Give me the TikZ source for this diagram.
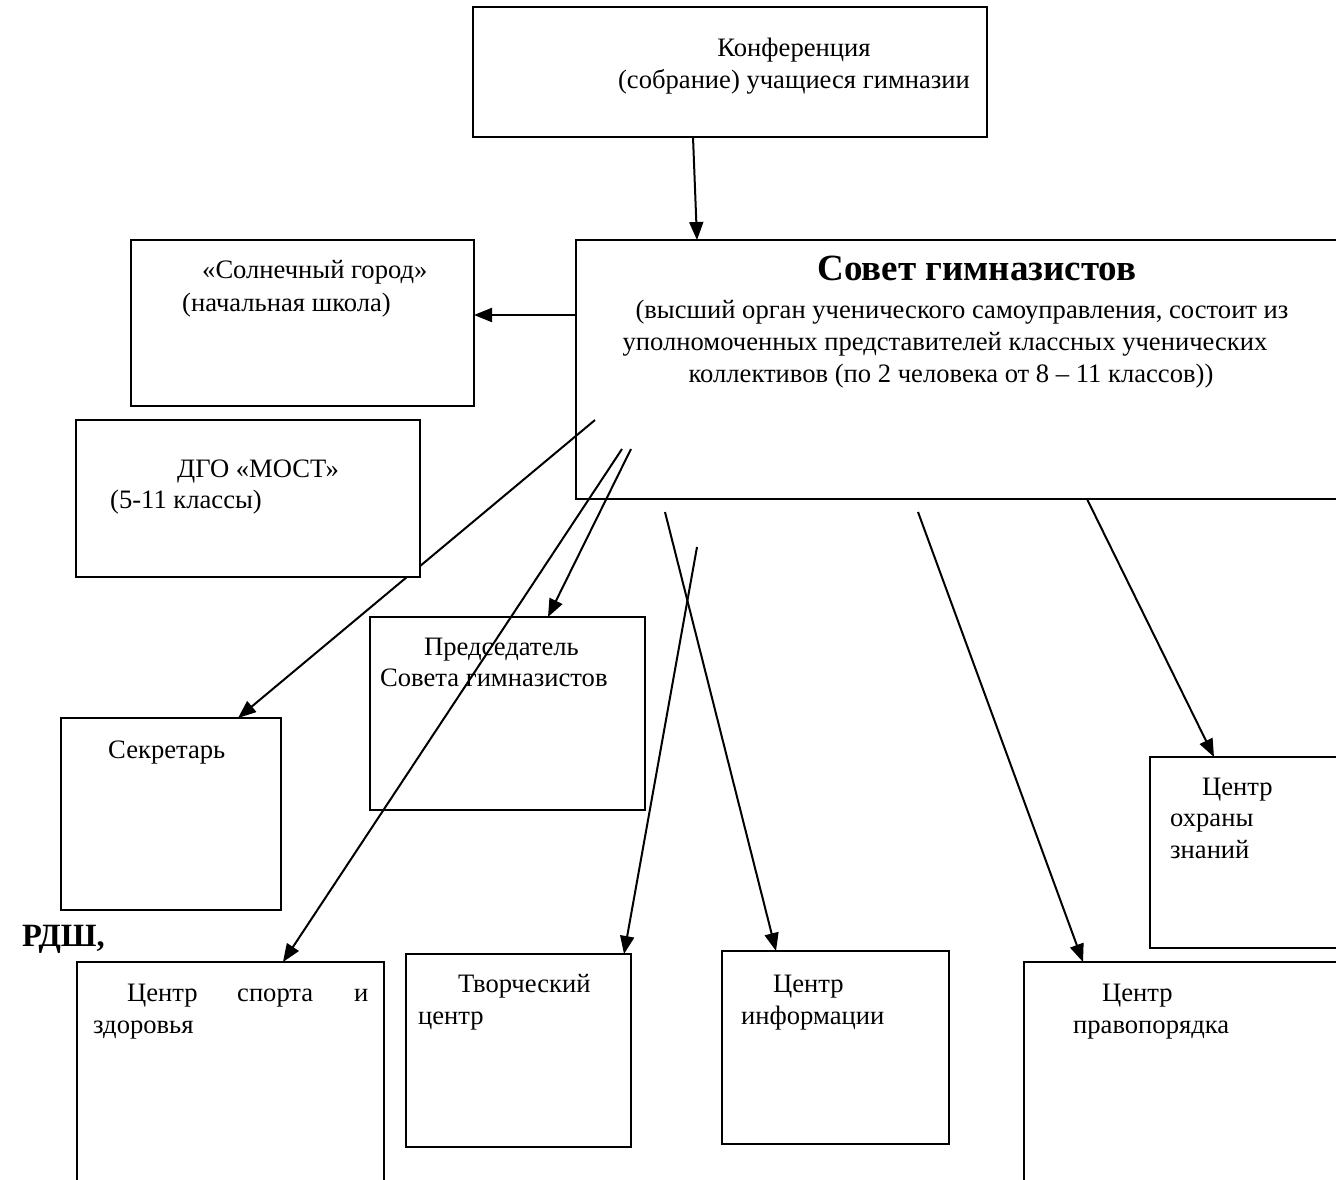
\documentclass[tikz,border=0pt]{standalone}
\usepackage{fontspec}
\setmainfont{Liberation Serif}
\usetikzlibrary{arrows.meta}
\begin{document}
\begin{tikzpicture}[x=1pt,y=-1pt,
  box/.style={draw, line width=2pt, fill=white, inner sep=0pt, outer sep=0pt, anchor=north west},
  txt/.style={inner sep=0pt, anchor=base west, font=\fontsize{26.6}{32}\selectfont},
  ctxt/.style={inner sep=0pt, anchor=base, font=\fontsize{26.6}{32}\selectfont},
  ttl/.style={inner sep=0pt, anchor=base, font=\fontsize{37}{40}\selectfont\bfseries},
  arr/.style={line width=2pt, -{Triangle[length=18pt,width=14pt]}}]
\useasboundingbox (0,0) rectangle (1336,1179);
\clip (0,0) rectangle (1336,1179);
\fill[white] (0,0) rectangle (1336,1179);

% boxes
\node[box, minimum width=514pt, minimum height=130pt] (conf) at (473,7) {};
\node[box, minimum width=830pt, minimum height=259pt] (sovet) at (576,240) {};
\node[box, minimum width=343pt, minimum height=166pt] (sun) at (131,240) {};
\node[box, minimum width=275pt, minimum height=193pt] (pred) at (370,617) {};
\node[box, minimum width=220pt, minimum height=192pt] (sekr) at (61,718) {};
\node[box, minimum width=250pt, minimum height=191pt] (ohr) at (1150,757) {};
\node[box, minimum width=307pt, minimum height=280pt] (sport) at (77,962) {};
\node[box, minimum width=225pt, minimum height=193pt] (tvor) at (406,954) {};
\node[box, minimum width=227pt, minimum height=193pt] (info) at (722,951) {};
\node[box, minimum width=380pt, minimum height=280pt] (prav) at (1024,962) {};

% texts
\node[ctxt] (conf1) at (794,56) {Конференция};
\node[ctxt] (conf2) at (794,88) {(собрание) учащиеся гимназии};
\node[ttl] (sov0) at (977,280) {Совет гимназистов};
\node[ctxt] (sov1) at (962,318) {(высший орган ученического самоуправления, состоит из};
\node[ctxt] (sov2) at (945,350) {уполномоченных представителей классных ученических};
\node[ctxt] (sov3) at (951,382) {коллективов (по 2 человека от 8 – 11 классов))};
\node[txt] (sun1) at (202,278) {«Солнечный город»};
\node[txt] (sun2) at (182,311) {(начальная школа)};
\node[txt] (pred1) at (424,655) {Председатель};
\node[txt] (pred2) at (380,686) {Совета гимназистов};
\node[txt] (sekr1) at (108,758) {Секретарь};
\node[txt] (ohr1) at (1202,795) {Центр};
\node[txt] (ohr2) at (1170,826) {охраны};
\node[txt] (ohr3) at (1170,858) {знаний};
\node[txt] (sp1) at (127,1001) {Центр};
\node[txt] (sp2) at (237,1001) {спорта};
\node[txt] (sp3) at (354,1001) {и};
\node[txt] (sp4) at (93,1033) {здоровья};
\node[txt] (tv1) at (458,992) {Творческий};
\node[txt] (tv2) at (418,1024) {центр};
\node[txt] (in1) at (773,992) {Центр};
\node[txt] (in2) at (741,1024) {информации};
\node[txt] (pr1) at (1102,1001) {Центр};
\node[txt] (pr2) at (1073,1033) {правопорядка};
\node[txt, font=\fontsize{32.5}{36}\selectfont\bfseries] (rdsh) at (22,946) {РДШ,};

% connector start points
\coordinate (s3) at (595,420);
\coordinate (s4) at (631,449);
\coordinate (s5) at (622,449);
\coordinate (s6) at (697,547);
\coordinate (s7) at (665,512);
\coordinate (s8) at (918,512);

% connectors
\draw[arr] (693,0 |- conf.south) -- (697,0 |- sovet.north);
\draw[arr] (sovet.west |- 0,315) -- (sun.east |- 0,315);
\draw[arr] (s3) -- (238,0 |- sekr.north);
\draw[arr] (s4) -- (548,0 |- pred.north);
\draw[arr] (s5) -- (283,0 |- sport.north);
\draw[arr] (s6) -- (624,0 |- tvor.north);
\draw[arr] (s7) -- (776,0 |- info.north);
\draw[arr] (s8) -- (1083,0 |- prav.north);
\draw[arr] (1087,0 |- sovet.south) -- (1214,0 |- ohr.north);

% DGO box drawn on top of the crossing line
\node[box, minimum width=344pt, minimum height=157pt] (dgo) at (76,420) {};
\node[txt] (dgo1) at (177,477) {ДГО «МОСТ»};
\node[txt] (dgo2) at (110,508) {(5-11 классы)};
\end{tikzpicture}
\end{document}
